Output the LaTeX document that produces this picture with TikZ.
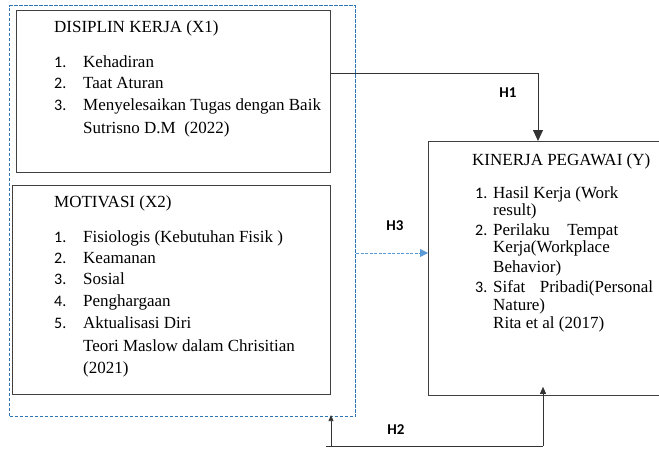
\documentclass[tikz,border=0pt]{standalone}
\usepackage{fontspec}
\setmainfont{Liberation Serif}
\newfontfamily\numfont{Carlito}
\usetikzlibrary{arrows.meta}
\usetikzlibrary{positioning}

\definecolor{grpblue}{RGB}{46,117,182}
\definecolor{lightblue}{RGB}{91,155,213}

\begin{document}
\begin{tikzpicture}[x=1pt,y=-1pt,
  box/.style={draw=black!75,line width=0.8pt,inner sep=0,anchor=north west},
  grp/.style={draw=grpblue,line width=1.1pt,dash pattern=on 3.5pt off 1.5pt,inner sep=0,anchor=north west},
  txt/.style={anchor=base west,inner sep=0,font=\rmfamily\fontsize{17}{20}\selectfont},
  num/.style={anchor=base west,inner sep=0,font=\numfont\fontsize{16}{20}\selectfont},
  hlab/.style={inner sep=0,font=\numfont\bfseries\fontsize{15}{18}\selectfont},
  con/.style={draw=black!80,line width=0.8pt}
  ]
\useasboundingbox (0,0) rectangle (659,450);

% boxes
\node[grp,minimum width=346,minimum height=411] (grp) at (9,5) {};
\node[box,minimum width=314,minimum height=162] (x1) at (16,10) {};
\node[box,minimum width=318,minimum height=209] (x2) at (12,185) {};
\node[box,minimum width=240,minimum height=254] (y) at (428,141) {};

% X1
\node[txt] (x1title) at (54,32) {DISIPLIN KERJA (X1)};
\node[num] (x1n1) at (54,67) {1.};
\node[num] (x1n2) at (54,88) {2.};
\node[num] (x1n3) at (54,110) {3.};
\node[txt] (x1a) at (83,67) {Kehadiran};
\node[txt] (x1b) at (83,88) {Taat Aturan};
\node[txt] (x1c) at (83,110) {Menyelesaikan Tugas dengan Baik};
\node[txt] (x1src) at (83,133) {Sutrisno D.M\ \ (2022)};

% X2
\node[txt] (x2title) at (54,207) {MOTIVASI (X2)};
\node[num] (x2n1) at (54,242) {1.};
\node[num] (x2n2) at (54,263) {2.};
\node[num] (x2n3) at (54,284) {3.};
\node[num] (x2n4) at (54,306) {4.};
\node[num] (x2n5) at (54,328) {5.};
\node[txt] (x2a) at (83,242) {Fisiologis (Kebutuhan Fisik )};
\node[txt] (x2b) at (83,263) {Keamanan};
\node[txt] (x2c) at (83,284) {Sosial};
\node[txt] (x2d) at (83,306) {Penghargaan};
\node[txt] (x2e) at (83,328) {Aktualisasi Diri};
\node[txt] (x2src) at (83,351) {Teori Maslow dalam Chrisitian};
\node[txt] (x2yr) at (83,373) {(2021)};

% Y
\node[txt] (ytitle) at (472,165) {KINERJA PEGAWAI (Y)};
\node[num] (yn1) at (475,198) {1.};
\node[num] (yn2) at (475,235) {2.};
\node[num] (yn3) at (475,292) {3.};
\node[txt] (ya1) at (493,198) {Hasil Kerja (Work};
\node[txt] (ya2) at (493,215) {result)};
\node[txt] (yb1) at (493,235) {\hbox to 125pt{Perilaku\hfill Tempat}};
\node[txt] (yb2) at (493,252) {Kerja(Workplace};
\node[txt] (yb3) at (493,272) {Behavior)};
\node[txt] (yc1) at (493,292) {\hbox to 160pt{Sifat\hfill Pribadi(Personal}};
\node[txt] (yc2) at (493,310) {Nature)};
\node[txt] (ysrc) at (493,328) {Rita et al (2017)};

% connectors
\coordinate (h1a) at (538,73);
\draw[con,-{Triangle[length=11pt,width=10pt]}] (x1.east |- h1a) -- (h1a) -- (h1a |- y.north);
\node[hlab] (h1) at (508,93) {H1};

\coordinate (h3a) at (428,253);
\draw[draw=lightblue,line width=0.9pt,dash pattern=on 3pt off 1.5pt,-{Triangle[length=8pt,width=8pt]}] (grp.east |- h3a) -- (h3a);
\node[hlab] (h3) at (395,226) {H3};

\coordinate (h2l) at (331,446);
\coordinate (h2r) at (543,446);
\draw[con] ([xshift=-5pt]h2l) -- (h2r);
\draw[con,-{Triangle[length=6pt,width=5pt]}] (h2l) -- ([yshift=2pt]h2l |- grp.south);
\draw[con,-{Triangle[length=7pt,width=6pt]}] (h2r) -- ([yshift=9pt]h2r |- y.south);
\node[hlab] (h2) at (396,430) {H2};
\end{tikzpicture}
\end{document}
